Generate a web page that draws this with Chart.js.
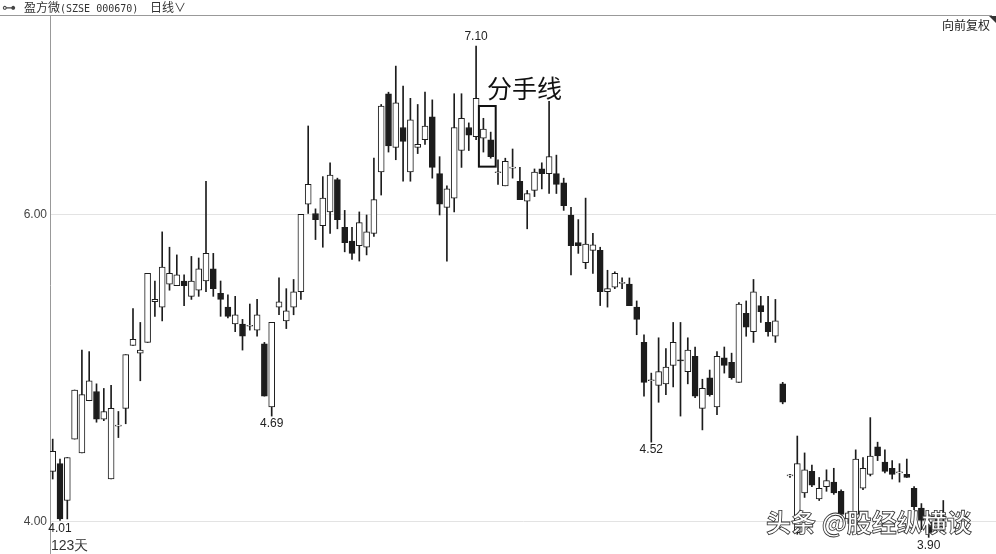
<!DOCTYPE html>
<html>
<head>
<meta charset="utf-8">
<script src="https://cdn.jsdelivr.net/npm/chart.js@4.4.1/dist/chart.umd.min.js"></script>
<style>
  body { margin: 0; background: #fff; }
  #wrap { position: relative; width: 996px; height: 554px; overflow: hidden; font-family: "Noto Sans CJK SC", sans-serif; }
  #kline { position: absolute; left: 0; top: 0; }
  .t { position: absolute; white-space: nowrap; line-height: 1; }
</style>
</head>
<body>
<div id="wrap">
  <canvas id="kline" width="996" height="554"></canvas>
  <div class="t" style="left:2px;top:0px;font-size:14px;color:#444;font-family:'DejaVu Sans'">⊶</div>
  <div class="t" style="left:24px;top:1px;font-size:12px;color:#333">盈方微<span style="font-family:'DejaVu Sans Mono';font-size:10px">(SZSE 000670)</span></div>
  <div class="t" style="left:150px;top:1px;font-size:12px;color:#333">日线∨</div>
  <div class="t" style="left:942px;top:19px;font-size:12px;color:#222">向前复权</div>
  <div class="t" style="left:487px;top:75px;font-size:25px;color:#111">分手线</div>
  <div class="t" style="left:51px;top:538px;font-size:14px;color:#333;font-family:'Liberation Sans'">123天</div>
  <div class="t" style="left:766px;top:509px;font-size:25px;font-weight:700;color:#fff;-webkit-text-stroke:0.8px #333">头条 @股经纵横谈</div>
</div>
<script>
// daily candles, 123 trading days
const opens  = [4.33,4.38,4.14,4.54,4.45,4.79,4.85,4.67,4.28,4.625,4.74,5.15,5.10,5.17,5.435,5.40,5.55,5.54,5.57,5.47,
                5.51,5.57,5.65,5.49,5.40,5.29,5.29,5.275,5.25,5.16,4.75,5.40,5.31,5.40,5.50,6.07,6.01,5.93,6.02,6.23,
                5.92,5.83,5.80,5.79,5.88,6.28,6.79,6.44,6.57,6.28,6.44,6.49,6.64,6.27,6.05,6.11,6.42,6.57,6.51,6.50,
                6.49,6.275,6.19,6.305,6.22,6.09,6.16,6.30,6.27,6.27,6.21,6.00,5.82,5.69,5.77,5.77,5.50,5.53,5.555,5.55,
                5.40,5.17,4.92,4.89,4.90,5.02,5.055,4.98,5.08,4.74,4.94,4.75,5.07,5.04,4.91,5.36,5.24,5.41,5.30,5.21,
                4.90,4.30,3.93,4.19,4.33,4.15,4.23,4.26,4.20,4.02,4.05,4.22,4.31,4.49,4.39,4.35,4.32,4.31,4.22,4.09,
                4.00,3.96,3.97];
const highs  = [4.54,4.41,4.42,4.86,5.12,5.11,4.90,4.87,4.89,4.72,5.09,5.39,5.30,5.62,5.57,5.89,5.79,5.74,5.61,5.73,
                5.72,6.22,5.75,5.57,5.48,5.47,5.32,5.42,5.45,5.17,5.30,5.59,5.52,5.58,6.005,6.58,6.04,6.25,6.34,6.24,
                6.03,5.92,6.02,6.00,6.37,6.72,6.80,6.97,6.84,6.76,6.72,6.80,6.75,6.38,6.19,6.79,6.79,6.60,7.10,6.63,
                6.54,6.36,6.37,6.43,6.31,6.16,6.30,6.34,6.74,6.39,6.24,6.05,5.97,6.11,5.88,5.79,5.64,5.63,5.59,5.59,
                5.44,5.22,4.97,5.20,5.13,5.30,5.30,5.20,5.14,4.93,4.99,5.11,5.14,5.10,5.43,5.44,5.58,5.47,5.47,5.45,
                4.91,4.31,4.56,4.45,4.37,4.29,4.34,4.35,4.21,4.07,4.47,4.42,4.68,4.52,4.47,4.40,4.38,4.41,4.23,4.12,
                4.05,4.02,4.14];
const lows   = [4.28,4.01,4.02,4.54,4.45,4.79,4.65,4.66,4.28,4.55,4.64,5.15,4.92,5.17,5.34,5.31,5.51,5.54,5.41,5.45,
                5.47,5.50,5.47,5.34,5.33,5.24,5.12,5.25,5.21,4.82,4.69,5.35,5.26,5.35,5.45,6.01,5.84,5.79,5.88,5.91,
                5.76,5.71,5.70,5.74,5.86,6.13,6.41,6.36,6.22,6.22,6.40,6.46,6.24,6.00,5.70,6.02,6.31,6.42,6.49,6.41,
                6.37,6.20,6.19,6.24,6.10,5.91,6.12,6.17,6.14,6.14,6.03,5.61,5.75,5.65,5.62,5.41,5.40,5.52,5.52,5.41,
                5.22,4.82,4.52,4.78,4.83,4.88,4.69,4.90,4.81,4.60,4.82,4.70,4.97,4.93,4.91,5.21,5.17,5.30,5.21,5.17,
                4.77,4.29,3.92,4.16,4.23,4.14,4.20,4.18,4.03,3.99,4.03,4.21,4.30,4.40,4.32,4.28,4.26,4.29,4.08,3.95,
                3.90,3.93,3.94];
const closes = [4.46,4.02,4.42,4.86,4.83,4.92,4.67,4.72,4.74,4.63,5.09,5.19,5.12,5.62,5.45,5.66,5.62,5.61,5.54,5.57,
                5.65,5.75,5.52,5.45,5.34,5.35,5.21,5.28,5.35,4.82,5.30,5.435,5.375,5.50,6.005,6.20,5.97,6.11,6.26,5.97,
                5.82,5.75,5.95,5.89,6.10,6.71,6.45,6.73,6.48,6.62,6.46,6.58,6.31,6.07,6.17,6.57,6.63,6.52,6.76,6.56,
                6.38,6.28,6.35,6.31,6.10,6.14,6.28,6.27,6.38,6.20,6.06,5.80,5.80,5.81,5.805,5.50,5.52,5.62,5.56,5.41,
                5.32,4.91,4.925,4.98,5.01,5.17,5.05,5.12,4.82,4.87,4.83,5.08,5.02,4.94,5.42,5.27,5.50,5.37,5.24,5.31,
                4.78,4.305,4.38,4.34,4.24,4.22,4.27,4.19,4.05,4.06,4.41,4.35,4.43,4.43,4.33,4.31,4.325,4.29,4.10,4.01,
                3.93,3.99,4.00];
const days = opens.map((_, i) => i);

const tickVals = [4, 6];
// labelled highs / lows
const markDays = [1, 30, 58, 82, 120];
const markSide = ['low', 'low', 'high', 'low', 'low'];
// 分手线 box
const boxDays = [59, 60];
const boxVals = [6.315, 6.71];

const ink = '#1c1c1c';

const decor = {
  id: 'decor',
  afterDraw(chart) {
    const { ctx, scales: { x, y } } = chart;
    ctx.save();
    ctx.strokeStyle = '#999';
    ctx.lineWidth = 1;
    ctx.beginPath();
    ctx.moveTo(0, 15.5);
    ctx.lineTo(992, 15.5);
    ctx.stroke();
    ctx.fillStyle = '#333';
    ctx.beginPath();
    ctx.moveTo(989, 16); ctx.lineTo(996, 16); ctx.lineTo(996, 23);
    ctx.fill();

    ctx.font = '12px "Liberation Sans", Arial, sans-serif';
    ctx.fillStyle = '#222';
    ctx.textAlign = 'center';
    markDays.forEach((d, k) => {
      const px = x.getPixelForValue(d);
      if (markSide[k] === 'high') {
        ctx.textBaseline = 'bottom';
        ctx.fillText(highs[d].toFixed(2), px, y.getPixelForValue(highs[d]) - 3);
      } else {
        ctx.textBaseline = 'top';
        ctx.fillText(lows[d].toFixed(2), px, y.getPixelForValue(lows[d]) + 2);
      }
    });

    const x0 = x.getPixelForValue(boxDays[0]) - 4.5;
    const x1 = x.getPixelForValue(boxDays[1]) + 5;
    const y0 = y.getPixelForValue(boxVals[1]);
    const y1 = y.getPixelForValue(boxVals[0]);
    ctx.strokeStyle = '#111';
    ctx.lineWidth = 2;
    ctx.strokeRect(x0, y0, x1 - x0, y1 - y0);
    ctx.restore();
  }
};

new Chart(document.getElementById('kline'), {
  type: 'bar',
  data: {
    datasets: [
      {
        label: 'body',
        order: 0,
        grouped: false,
        data: days.map(i => ({ x: i, y: [opens[i], closes[i]] })),
        backgroundColor: days.map(i => closes[i] >= opens[i] ? '#fff' : ink),
        borderColor: ink,
        borderWidth: 1,
        borderSkipped: false,
        barThickness: 6,
        minBarLength: 1
      },
      {
        label: 'wick',
        order: 1,
        grouped: false,
        data: days.map(i => ({ x: i, y: [lows[i], highs[i]] })),
        backgroundColor: ink,
        borderWidth: 0,
        barThickness: 1
      }
    ]
  },
  plugins: [decor],
  options: {
    responsive: false,
    animation: false,
    layout: { padding: { top: 16, left: 0, right: 0, bottom: 0 } },
    plugins: { legend: { display: false }, tooltip: { enabled: false } },
    scales: {
      x: { type: 'linear', display: false, offset: false, min: -0.37, max: 129.22 },
      y: {
        min: 3.7915,
        max: 7.2964,
        afterFit: s => { s.width = 50; s.paddingTop = 0; s.paddingBottom = 0; },
        afterBuildTicks: s => { s.ticks = tickVals.map(v => ({ value: v })); },
        ticks: {
          padding: 3,
          color: '#444',
          font: { family: '"Liberation Sans", Arial, sans-serif', size: 12 },
          callback: v => v.toFixed(2)
        },
        grid: { color: '#e3e3e3', drawTicks: false },
        border: { color: '#999' }
      }
    }
  }
});
</script>
</body>
</html>
